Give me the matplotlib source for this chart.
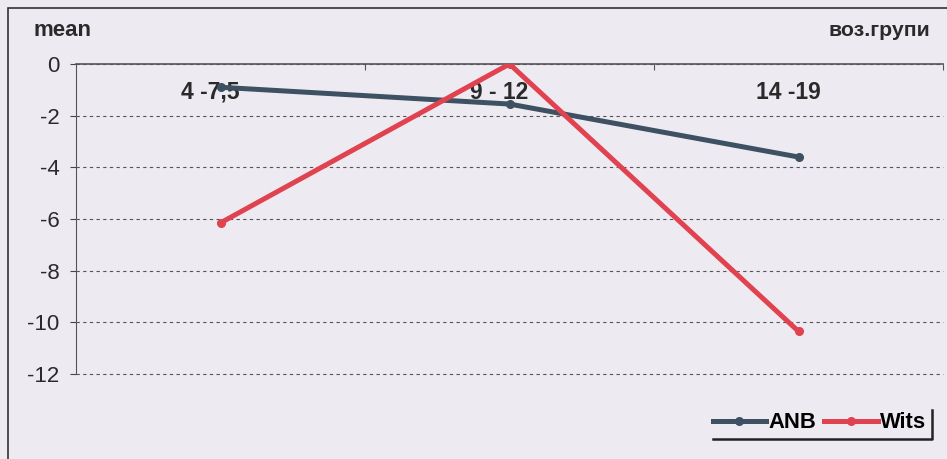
import matplotlib.pyplot as plt
from matplotlib.patches import Rectangle
from matplotlib.lines import Line2D

groups = ['4 -7,5', '9 - 12', '14 -19']
anb = [-0.9, -1.55, -3.6]
wits = [-6.15, 0.0, -10.35]
yticks = [0, -2, -4, -6, -8, -10, -12]

bg = '#eeeaf2'
plt.rcParams['font.family'] = ['Liberation Sans', 'DejaVu Sans']

fig = plt.figure(figsize=(9.47, 4.59), dpi=100)
fig.patch.set_facecolor(bg)
W, H = 947, 459
ax = fig.add_axes([76 / W, 1 - 374 / H, (943 - 76) / W, (374 - 64) / H])
ax.set_facecolor('none')

# outer chart frame
fig.add_artist(Rectangle((8 / W, -0.1), 1.1, 1 - 8 / H + 0.1, transform=fig.transFigure,
                         fill=False, ec='#333333', lw=1.2))

x = [0.5, 1.5, 2.5]
ax.plot(x, anb, color='#3d5163', lw=3.6, marker='o', ms=5.5, label='ANB', zorder=3)
ax.plot(x, wits, color='#e0434f', lw=3.6, marker='o', ms=5.5, label='Wits', zorder=4)

ax.set_xlim(0, 3)
ax.set_ylim(-12, 0)
ax.set_yticks(yticks)
ax.set_yticklabels([str(v) for v in yticks], fontsize=16, color='#2a2a2a')
ax.yaxis.grid(True, ls=(0, (3, 3)), color='#555555', lw=0.8)
for gl in ax.yaxis.get_gridlines():
    gl.set_clip_on(False)
ax.tick_params(axis='y', length=4, color='#444444', pad=8)

ax.spines['right'].set_visible(False)
ax.spines['bottom'].set_visible(False)
ax.spines['left'].set_color('#555555')
ax.spines['top'].set_color('#555555')
ax.spines['top'].set_linewidth(1.2)
ax.set_xticks([1, 2, 3])
ax.set_xticklabels([])
ax.tick_params(axis='x', top=True, bottom=False, direction='in', length=4, color='#555555')

for xi, g in zip(x, groups):
    ax.text(xi - 0.035, -1.1, g, ha='center', va='center', fontsize=16.5, fontweight='bold',
            color='#2a2a2a', zorder=2)

fig.text(33 / W, 1 - 30 / H, 'mean', fontsize=16, fontweight='bold', color='#2a2a2a', va='center')
fig.text(930 / W, 1 - 30 / H, 'воз.групи', fontsize=15.3, fontweight='bold', color='#2a2a2a',
         va='center', ha='right')

leg = ax.legend(loc='center right', bbox_to_anchor=(926 / W, 1 - 423 / H), bbox_transform=fig.transFigure,
                frameon=False, ncol=2, prop={'weight': 'bold', 'size': 15.8}, handlelength=2.45,
                columnspacing=0.35, handletextpad=0.1, borderaxespad=0, borderpad=0)
fig.add_artist(Line2D([713 / W, 932 / W, 932 / W], [1 - 439 / H, 1 - 439 / H, 1 - 410 / H],
                      transform=fig.transFigure, color='#222222', lw=1.8))

fig.savefig('out.png', dpi=100, facecolor=bg)
